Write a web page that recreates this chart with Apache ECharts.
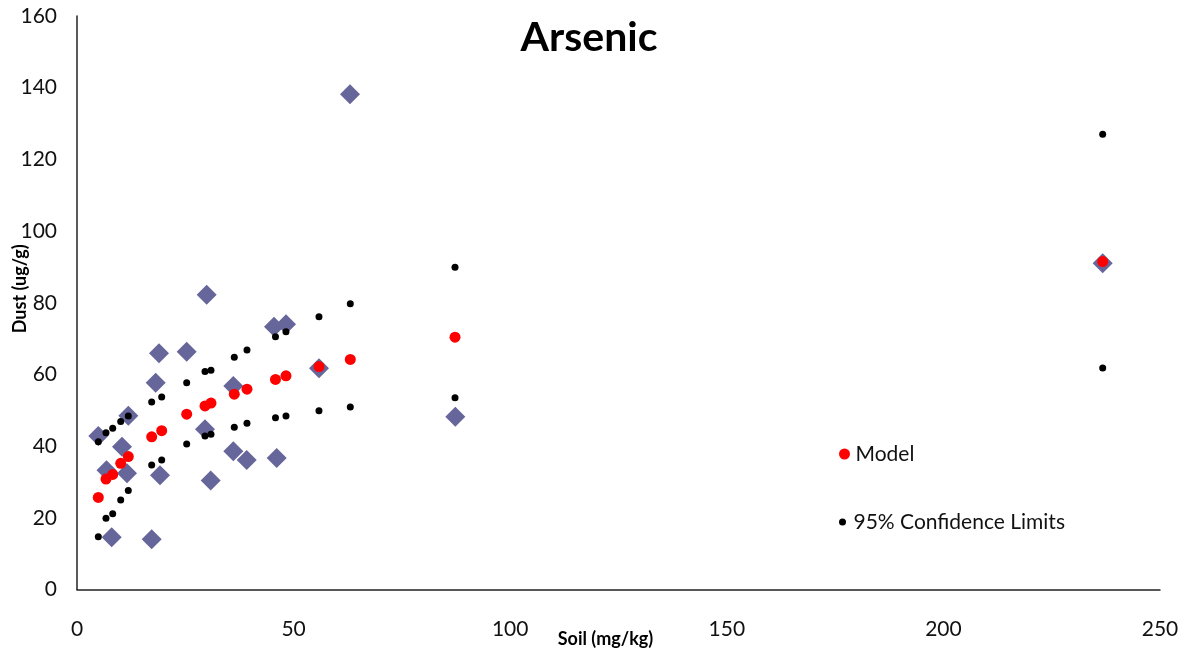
<!DOCTYPE html>
<html>
<head>
<meta charset="utf-8">
<title>Arsenic</title>
<script src="https://cdn.jsdelivr.net/npm/echarts/dist/echarts.min.js"></script>
<style>
  html, body { margin: 0; padding: 0; background: #fff; }
  #chart { width: 1192px; height: 658px; }
</style>
</head>
<body>
<div id="chart"></div>
<script>
// observed samples (diamonds)
const obsSoil = [4.92, 6.81, 8.01, 10.39, 11.84, 11.54, 17.24, 18.17, 18.93, 19.16, 25.32, 29.94,
  29.55, 30.86, 36.08, 36.08, 39.17, 45.48, 46.1, 48.24, 55.86, 63.02, 87.33, 236.77];
const obsDust = [42.8, 33.3, 14.6, 39.8, 48.5, 32.4, 14.0, 57.7, 65.9, 31.9, 66.3, 82.2,
  44.7, 30.4, 56.8, 38.6, 36.1, 73.3, 36.7, 74.0, 61.7, 138.2, 48.2, 91.0];

// model fit and 95% confidence limits
const soil = [4.92, 6.69, 8.24, 10.09, 11.84, 17.24, 19.55, 25.32, 29.55, 30.93, 36.31, 39.24,
  45.82, 48.24, 55.86, 63.09, 87.26, 236.77];
const model = [25.7, 30.8, 32.1, 35.2, 37.1, 42.6, 44.3, 48.9, 51.2, 52.0, 54.5, 55.9,
  58.6, 59.6, 62.2, 64.2, 70.4, 91.5];
const upper = [41.2, 43.7, 45.0, 46.9, 48.4, 52.3, 53.7, 57.7, 60.8, 61.2, 64.8, 66.8,
  70.5, 71.9, 76.1, 79.7, 89.9, 127.0];
const lower = [14.7, 19.9, 21.1, 25.0, 27.6, 34.7, 36.1, 40.6, 42.8, 43.3, 45.3, 46.4,
  47.9, 48.4, 49.9, 50.9, 53.5, 61.8];

const xTicks = { min: 0, max: 250, interval: 50 };
const yTicks = { min: 0, max: 160, interval: 20 };

const pairs = (xs, ys) => xs.map((x, i) => [x, ys[i]]);
const font = "Lato, 'Open Sans', sans-serif";

const chart = echarts.init(document.getElementById("chart"));
chart.setOption({
  animation: false,
  backgroundColor: "#fff",
  textStyle: { fontFamily: font },
  title: {
    text: "Arsenic",
    left: 584,
    top: 12,
    textAlign: "center",
    textStyle: { fontFamily: font, fontSize: 41, fontWeight: "bold", color: "#000" }
  },
  grid: { left: 77, right: 32, top: 16, bottom: 68.5, outerBoundsMode: "none", containLabel: false },
  legend: [
    {
      data: ["Model"],
      left: 834,
      top: 437,
      icon: "circle",
      itemWidth: 12,
      itemHeight: 11,
      itemGap: 8,
      textStyle: { fontFamily: font, fontSize: 21, color: "#111", lineHeight: 24 }
    },
    {
      data: ["95% Confidence Limits"],
      left: 834,
      top: 505,
      icon: "circle",
      itemWidth: 12,
      itemHeight: 7,
      textStyle: { fontFamily: font, fontSize: 21, color: "#111", lineHeight: 24 }
    }
  ],
  xAxis: {
    type: "value",
    min: xTicks.min,
    max: xTicks.max,
    interval: xTicks.interval,
    name: "Soil (mg/kg)",
    nameLocation: "middle",
    nameGap: 41,
    nameMoveOverlap: false,
    nameTextStyle: { fontFamily: font, fontSize: 18, fontWeight: "bold", color: "#000", padding: [0, 26, 0, 0] },
    axisLine: { lineStyle: { color: "#222", width: 1.5 } },
    axisTick: { show: false },
    splitLine: { show: false },
    axisLabel: { fontFamily: font, fontSize: 21, color: "#111", margin: 29, showMinLabel: true, showMaxLabel: true }
  },
  yAxis: {
    type: "value",
    min: yTicks.min,
    max: yTicks.max,
    interval: yTicks.interval,
    name: "Dust (ug/g)",
    nameLocation: "middle",
    nameGap: 48,
    nameMoveOverlap: false,
    nameTextStyle: { fontFamily: font, fontSize: 18, fontWeight: "bold", color: "#000", padding: [0, 0, 0, 28] },
    axisLine: { show: true, lineStyle: { color: "#222", width: 1.5 } },
    axisTick: { show: false },
    splitLine: { show: false },
    axisLabel: { fontFamily: font, fontSize: 21, color: "#111", margin: 20 }
  },
  series: [
    {
      name: "Observed",
      type: "scatter",
      symbol: "diamond",
      symbolSize: 20,
      itemStyle: { color: "#66669A", opacity: 1 },
      data: pairs(obsSoil, obsDust),
      z: 1
    },
    {
      name: "Model",
      type: "scatter",
      symbol: "circle",
      symbolSize: 11,
      itemStyle: { color: "#ff0000", opacity: 1 },
      data: pairs(soil, model),
      z: 2
    },
    {
      name: "95% Confidence Limits",
      type: "scatter",
      symbol: "circle",
      symbolSize: 7,
      itemStyle: { color: "#000", opacity: 1 },
      data: pairs(soil, upper),
      z: 3
    },
    {
      name: "95% Confidence Limits",
      type: "scatter",
      symbol: "circle",
      symbolSize: 7,
      itemStyle: { color: "#000", opacity: 1 },
      data: pairs(soil, lower),
      z: 3
    }
  ]
});
</script>
</body>
</html>
